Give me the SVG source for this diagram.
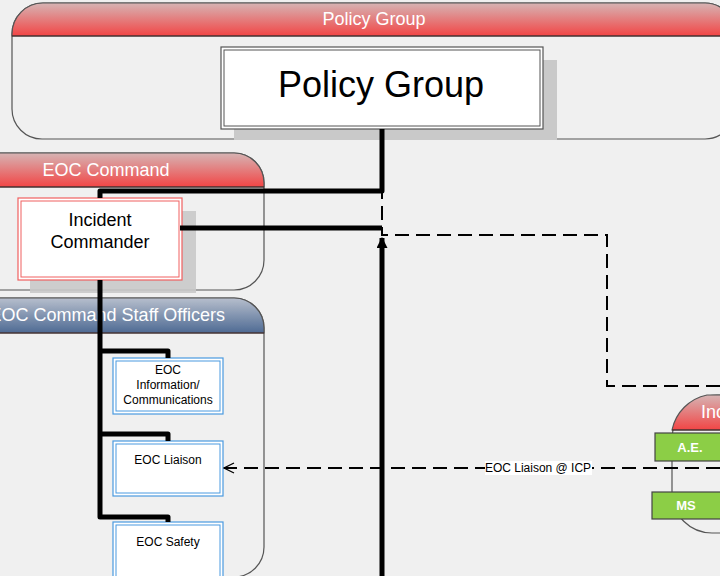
<svg xmlns="http://www.w3.org/2000/svg" width="720" height="576" viewBox="0 0 720 576">
<defs>
<linearGradient id="gRed" x1="0" y1="0" x2="0" y2="1">
<stop offset="0" stop-color="#d6b4b4"/>
<stop offset="1" stop-color="#f24545"/>
</linearGradient>
<linearGradient id="gBlue" x1="0" y1="0" x2="0" y2="1">
<stop offset="0" stop-color="#b4bccb"/>
<stop offset="1" stop-color="#46648f"/>
</linearGradient>
<marker id="arrUp" viewBox="0 0 10 10" refX="9" refY="5" markerWidth="2.2" markerHeight="2.2" orient="auto" markerUnits="strokeWidth">
<path d="M0,0 L10,5 L0,10 z" fill="#000"/>
</marker>
<marker id="arrOpen" viewBox="0 0 12 12" refX="11" refY="6" markerWidth="6" markerHeight="6" orient="auto" markerUnits="strokeWidth">
<path d="M1,1 L11,6 L1,11" fill="none" stroke="#000" stroke-width="1.3"/>
</marker>
</defs>
<style>
.cont{fill:#f0f0f0;stroke:#555;stroke-width:1.2}
.hdrline{stroke:#3a2020;stroke-width:1}
.title{font-family:"Liberation Sans",Arial,sans-serif;fill:#fff;font-size:18px;text-anchor:middle}
.shadow{fill:#c9c9c9}
.box{fill:#fff}
.lbl{font-family:"Liberation Sans",Arial,sans-serif;fill:#000;text-anchor:middle}
.thick{fill:none;stroke:#000;stroke-width:5;stroke-linejoin:round}
.dash{fill:none;stroke:#000;stroke-width:2;stroke-dasharray:14 7}
.green{fill:#8cce46;stroke:#444;stroke-width:1.2}
.gtxt{font-family:"Liberation Sans",Arial,sans-serif;fill:#fff;font-weight:bold;font-size:13px;text-anchor:middle}
</style>
<rect width="720" height="576" fill="#f0f0f0"/>

<g id="policy-group-container">
<path class="cont" d="M12,34 A31,31 0 0 1 43,3 H705 A30,30 0 0 1 735,33 V109 A30,30 0 0 1 705,139 H42 A30,30 0 0 1 12,109 Z"/>
<path d="M12,36 V34 A31,31 0 0 1 43,3 H705 A30,30 0 0 1 735,33 V36 Z" fill="url(#gRed)" stroke="#555" stroke-width="1.2"/>
<line class="hdrline" x1="12" y1="36" x2="735" y2="36"/>
<text class="title" x="374" y="25">Policy Group</text>
</g>

<g id="eoc-command-container">
<path class="cont" d="M-60,153 H234 A30,30 0 0 1 264,183 V260 A30,30 0 0 1 234,290 H-60 Z"/>
<path d="M-60,187 V153 H234 A30,30 0 0 1 264,183 V187 Z" fill="url(#gRed)" stroke="#555" stroke-width="1.2"/>
<line class="hdrline" x1="-60" y1="187" x2="264" y2="187"/>
<text class="title" x="106" y="176">EOC Command</text>
</g>

<g id="staff-officers-container">
<path class="cont" d="M-60,298 H234 A30,30 0 0 1 264,328 V547 A30,30 0 0 1 234,577 H-60 Z"/>
<path d="M-60,333 V298 H234 A30,30 0 0 1 264,328 V333 Z" fill="url(#gBlue)" stroke="#555" stroke-width="1.2" opacity="0.95"/>
<line class="hdrline" x1="-60" y1="333" x2="264" y2="333" stroke="#223"/>
<text class="title" x="225" y="321" style="text-anchor:end">EOC Command Staff Officers</text>
</g>

<g id="incident-command-container">
<path class="cont" d="M672,440 A45,45 0 0 1 717,395 H760 V533 H712 A40,40 0 0 1 672,493 Z"/>
<path d="M672,430 A45,45 0 0 1 707,395 H760 V430 Z" fill="url(#gRed)" stroke="#555" stroke-width="1.2"/>
<line class="hdrline" x1="672" y1="430" x2="760" y2="430"/>
<text class="title" x="701" y="418" style="text-anchor:start">Incident</text>
</g>

<g id="policy-group">
<rect class="shadow" x="234" y="60" width="323" height="80"/>
<rect class="box" x="221" y="47" width="322" height="82" stroke="#555" stroke-width="1.2"/>
<rect x="224" y="50" width="316" height="76" fill="none" stroke="#555" stroke-width="1"/>
<text class="lbl" x="381" y="97" font-size="36">Policy Group</text>
</g>

<g id="incident-commander">
<rect class="shadow" x="30" y="211" width="166" height="82" opacity="0.9"/>
<rect class="box" x="18" y="198" width="164" height="82" stroke="#f06060" stroke-width="1.2"/>
<rect x="21" y="201" width="158" height="76" fill="none" stroke="#f06060" stroke-width="1"/>
<text class="lbl" x="100" y="226" font-size="18">Incident</text>
<text class="lbl" x="100" y="248" font-size="18">Commander</text>
</g>

<g id="eoc-information">
<rect class="box" x="113" y="358" width="110" height="56" stroke="#4a9ae0" stroke-width="1.2"/>
<rect x="116" y="361" width="104" height="50" fill="none" stroke="#4a9ae0" stroke-width="1"/>
<text class="lbl" x="168" y="374" font-size="12">EOC</text>
<text class="lbl" x="168" y="389" font-size="12">Information/</text>
<text class="lbl" x="168" y="404" font-size="12">Communications</text>
</g>

<g id="eoc-liaison">
<rect class="box" x="113" y="441" width="110" height="55" stroke="#4a9ae0" stroke-width="1.2"/>
<rect x="116" y="444" width="104" height="49" fill="none" stroke="#4a9ae0" stroke-width="1"/>
<text class="lbl" x="168" y="464" font-size="12">EOC Liaison</text>
</g>

<g id="eoc-safety">
<rect class="box" x="113" y="522" width="110" height="60" stroke="#4a9ae0" stroke-width="1.2"/>
<rect x="116" y="525" width="104" height="54" fill="none" stroke="#4a9ae0" stroke-width="1"/>
<text class="lbl" x="168" y="546" font-size="12">EOC Safety</text>
</g>

<g id="ae">
<rect class="green" x="655" y="433" width="80" height="28"/>
<text class="gtxt" x="690" y="452">A.E.</text>
</g>

<g id="ms">
<rect class="green" x="652" y="492" width="80" height="27"/>
<text class="gtxt" x="686" y="510">MS</text>
</g>

<g id="connectors">
<path class="dash" d="M720,386 H607 V235 H382 V191"/>
<path class="thick" d="M382,129 V191 H100 V198"/>
<path class="thick" d="M180,228 H382"/>
<path class="thick" d="M382,580 V238" marker-end="url(#arrUp)"/>
<path class="thick" d="M100,280 V517 H168 V522"/>
<path class="thick" d="M100,351 H168 V358"/>
<path class="thick" d="M100,434 H168 V441"/>
<path class="dash" d="M720,468 H224" marker-end="url(#arrOpen)"/>
<rect x="485" y="461" width="107" height="14" fill="#fff"/>
<text class="lbl" x="538" y="472" font-size="12">EOC Liaison @ ICP</text>
</g>
</svg>
